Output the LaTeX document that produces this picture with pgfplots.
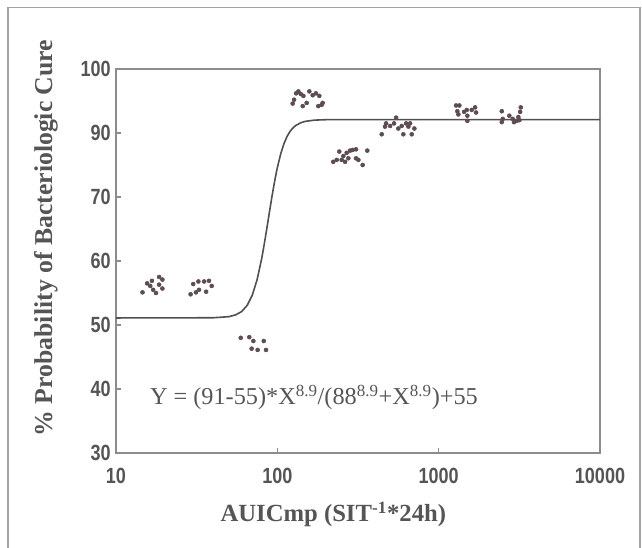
\documentclass[border=0pt]{standalone}
\usepackage{fontspec}
\setmainfont{Liberation Serif}
\newfontfamily\ticksf[FakeStretch=0.82]{Liberation Sans}
\usepackage{pgfplots}
\pgfplotsset{compat=1.18}

\definecolor{inkgray}{HTML}{555555}
\definecolor{framegray}{HTML}{8C8C8C}
\definecolor{dotcol}{HTML}{5E4D50}
\definecolor{curvecol}{HTML}{505050}

\pgfplotstableread{
x y
14.6 55.1
15.6 56.5
16.3 56.1
16.7 56.9
17.0 55.5
17.7 55.0
18.5 57.5
19.4 57.1
18.5 56.3
19.4 55.7
29.0 54.8
30.1 56.4
31.3 55.1
32.4 56.8
32.7 55.5
35.2 56.8
36.2 55.2
37.7 56.9
39.2 56.1
59.3 48.0
67.0 48.1
71.0 47.5
82.4 47.5
69.3 46.3
75.5 46.1
85.1 46.1
124.5 94.6
127 95.2
130.7 96.2
135 96.5
139.6 96.1
145 95.8
143.7 94.2
152 94.7
157.9 96.5
165.6 95.9
173.6 96.2
182 95.8
179.5 94.2
188.4 94.4
191 94.7
222 81.0
233.5 81.6
242 84.2
250.5 81.6
256.5 82.8
263 81.0
269 83.8
275.5 82.1
282.4 84.5
293 84.7
307.4 84.9
307.4 82.1
318 81.6
338 80.0
361 84.5
443.6 89.6
465 91.0
472 91.5
500 91.1
529 91.5
545 92.4
562 90.7
590 91.1
604 89.6
628 91.5
649 91.0
665 91.5
681 89.6
707 90.7
1282 94.3
1344 94.3
1305 93.4
1325 92.9
1437 93.3
1493 93.6
1506 92.7
1506 91.9
1603 93.6
1681 94.0
1706 93.2
2461 93.4
2496 92.2
2461 91.7
2741 92.7
2878 92.2
2931 91.7
3047 91.9
3118 92.5
3198 93.3
3228 94.0
3165 92.0
}\cureobs

% fitted Emax curve
\pgfplotstableread{
x y
10 51.10
40 51.13
50 51.30
55 51.57
60 52.09
65 53.06
70 54.68
75 57.12
80 60.39
82.5 62.27
85 64.23
87.5 66.21
90 68.15
92.5 69.99
95 73.38
97.5 76.44
100 79.16
105 83.54
110 86.72
115 88.96
120 90.26
125 90.79
130 91.17
140 91.61
150 91.83
170 92.01
200 92.08
500 92.10
10000 92.10
}\curefit

\begin{document}
\begin{tikzpicture}
\useasboundingbox (0,0) rectangle (481.5pt,-411pt);
\draw[framegray!80, line width=0.8pt]
  (6pt,-430pt) -- (6pt,-5.5pt) -- (480pt,-5.5pt) -- (480pt,-430pt);
\begin{axis}[
    at={(87pt,-339.75pt)}, anchor=south west,
    scale only axis, width=363pt, height=288pt,
    xmode=log, xmin=10, xmax=10000,
    ymin=30, ymax=100,
    % the printed scale jumps from 70 to 90 in one step
    y coord trafo/.code={\pgfmathparse{#1<70 ? (#1-30)/10 : (#1<90 ? 4+(#1-70)/20 : 5+(#1-90)/10)}},
    xtick={10,100,1000,10000},
    xticklabels={10,100,1000,10000},
    ytick={30,40,50,60,70,90,100},
    yticklabels={30,40,50,60,70,90,100},
    xminorticks=false, yminorticks=false,
    tick pos=left, tick align=inside,
    major tick length=4pt,
    axis line style={framegray, line width=0.8pt},
    tick style={framegray, line width=0.8pt},
    ticklabel style={font=\ticksf\bfseries\fontsize{16.5}{16.5}\selectfont, text=inkgray},
    xticklabel style={yshift=-8pt},
    yticklabel style={xshift=-0.5pt},
    clip=false
]
\addplot[no marks, curvecol, line width=1.2pt] table[x=x, y=y] {\curefit};
\addplot[only marks, mark=*, mark size=1.5pt, dotcol] table[x=x, y=y] {\cureobs};
\end{axis}
\node[anchor=base west, text=inkgray, font=\fontsize{18.2}{20}\selectfont]
  at (109pt,-303.75pt) {Y = (91-55)*X\textsuperscript{8.9}/(88\textsuperscript{8.9}+X\textsuperscript{8.9})+55};
\node[rotate=90, text=inkgray, font=\bfseries\fontsize{19.3}{21}\selectfont]
  at (34.5pt,-178.5pt) {\% Probability of Bacteriologic Cure};
\node[text=inkgray, font=\bfseries\fontsize{18.5}{20}\selectfont]
  at (250pt,-386pt) {AUICmp (SIT\textsuperscript{-1}*24h)};
\end{tikzpicture}
\end{document}
